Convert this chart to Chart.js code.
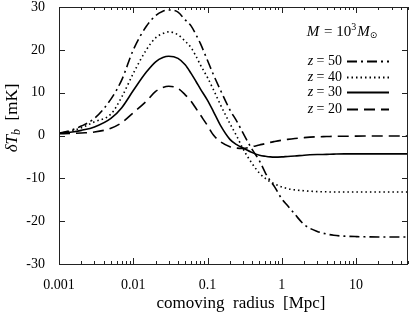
<!DOCTYPE html>
<html><head><meta charset="utf-8">
<script src="https://cdn.jsdelivr.net/npm/chart.js@4.4.0/dist/chart.umd.min.js"></script>
<style>html,body{margin:0;padding:0;background:#fff}#wrap{width:409px;height:314px}</style>
</head><body><div id="wrap"><canvas id="c" width="409" height="314"></canvas></div>
<script>
const radius = [0.001,0.0015,0.002,0.003,0.005,0.007,0.01,0.015,0.02,0.025,0.03,0.04,0.05,0.06,0.07,0.08,0.1,0.12,0.15,0.2,0.25,0.3,0.4,0.5,0.6,0.7,0.8,1,1.2,1.5,2,3,4,5,7,10,20,50];
const z50 = [0.5,1.3,2.2,4.0,8.5,13.0,20.0,25.5,28.0,29.0,29.3,28.8,27.0,25.6,23.5,21.5,17.5,14.2,10.5,6.0,3.2,0.6,-3.3,-5.9,-8.7,-10.6,-12.0,-14.8,-16.4,-18.4,-20.8,-22.4,-23.0,-23.3,-23.5,-23.6,-23.7,-23.7];
const z40 = [0.5,1.1,1.8,3.2,5.0,9.0,14.5,20.0,22.8,23.8,24.2,23.5,22.0,20.5,18.5,16.5,13.5,10.7,7.1,2.8,-0.3,-3.1,-6.6,-8.8,-10.0,-10.8,-11.3,-12.0,-12.4,-12.7,-12.9,-13.1,-13.15,-13.2,-13.2,-13.2,-13.2,-13.2];
const z30 = [0.5,0.8,1.2,2.0,4.0,6.5,10.5,14.8,17.2,18.2,18.5,18.0,16.5,14.5,12.6,10.9,8.2,5.6,2.3,-0.9,-2.2,-2.9,-4.0,-4.6,-4.85,-5.0,-5.05,-5.0,-4.9,-4.8,-4.6,-4.45,-4.4,-4.35,-4.3,-4.3,-4.3,-4.3];
const z20 = [0.4,0.5,0.6,0.8,1.7,3.0,5.3,8.0,10.3,11.2,11.5,11.0,9.5,8.0,6.3,4.8,2.3,0.1,-1.5,-2.6,-2.95,-3.0,-2.6,-2.2,-1.9,-1.6,-1.4,-1.1,-0.9,-0.7,-0.5,-0.3,-0.25,-0.2,-0.17,-0.15,-0.1,-0.1];
const xMajorTicks = [0.001,0.01,0.1,1,10];
const yTicks = [-30,-20,-10,0,10,20,30];
const seriesLabels = ['50','40','30','20'];

const dashes = {'50':[10,4,2,4],'40':[1.5,3],'30':[],'20':[11,6]};
function mk(arr,lab){return {label:'z = '+lab,data:radius.map((r,i)=>({x:r,y:arr[i]})),borderColor:'#000',borderWidth:1.6,borderDash:dashes[lab],pointRadius:0,fill:false,cubicInterpolationMode:'monotone'};}

const SERIF = '"Liberation Serif", "DejaVu Serif", serif';

function drawRich(ctx, parts, x, y, align){
  let w=0; parts.forEach(p=>{ctx.font=p[1]; w+=ctx.measureText(p[0]).width+(p[3]||0);});
  let cx = align==='center'? x-w/2 : (align==='right'? x-w : x);
  parts.forEach(p=>{ctx.font=p[1]; ctx.fillText(p[0],cx,y+(p[2]||0)); cx+=ctx.measureText(p[0]).width+(p[3]||0);});
}

const deco = {
  id:'deco',
  afterDraw(chart){
    const ctx=chart.ctx, a=chart.chartArea, xs=chart.scales.x, ys=chart.scales.y;
    ctx.save();
    ctx.strokeStyle='#222'; ctx.lineWidth=1; ctx.setLineDash([]);
    ctx.strokeRect(Math.round(a.left)+0.5, Math.round(a.top)+0.5, Math.round(a.right-a.left)-1, Math.round(a.bottom-a.top));
    ctx.beginPath();
    yTicks.forEach(v=>{const py=Math.round(ys.getPixelForValue(v))+0.5;
      ctx.moveTo(a.left,py);ctx.lineTo(a.left+6,py);ctx.moveTo(a.right,py);ctx.lineTo(a.right-6,py);});
    for(let d=-3; d<=1; d++){
      for(let k=1;k<=9;k++){
        const v=k*Math.pow(10,d); if(v>50) break;
        const px=Math.round(xs.getPixelForValue(v))+0.5; const L = k===1?6:3;
        ctx.moveTo(px,a.bottom);ctx.lineTo(px,a.bottom-L);ctx.moveTo(px,a.top);ctx.lineTo(px,a.top+L);
      }
    }
    ctx.stroke();
    ctx.fillStyle='#000'; ctx.textBaseline='middle';
    ctx.font='17px '+SERIF; ctx.textAlign='center';
    ctx.fillText('comoving  radius  [Mpc]', 241, 304);
    ctx.textAlign='left';
    ctx.save(); ctx.translate(13,118); ctx.rotate(-Math.PI/2);
    drawRich(ctx,[['δ','italic 17px '+SERIF,0],['T','italic 17px '+SERIF,0],['b','italic 12px '+SERIF,4],['  [mK]','17px '+SERIF,0]],0,0,'center');
    ctx.restore();
    drawRich(ctx,[['M','italic 15px '+SERIF,0,1],[' = 10','15px '+SERIF,0],['3','10px '+SERIF,-5,1],['M','italic 15px '+SERIF,0],['⊙','9px "DejaVu Sans"',4]],342,32,'center');
    const rowsY=[61,77,92,109];
    chart.data.datasets.forEach((ds,i)=>{
      const y=rowsY[i];
      drawRich(ctx,[['z','italic 14px '+SERIF,0],[' = '+seriesLabels[i],'14px '+SERIF,0]],342,y,'right');
      ctx.beginPath(); ctx.setLineDash(ds.borderDash); ctx.lineWidth=1.8; ctx.strokeStyle='#000';
      ctx.moveTo(347,y+0.5); ctx.lineTo(389,y+0.5); ctx.stroke();
    });
    ctx.restore();
  }
};

new Chart(document.getElementById('c'),{
  type:'line',
  data:{datasets:[mk(z50,'50'),mk(z40,'40'),mk(z30,'30'),mk(z20,'20')]},
  options:{
    responsive:false, animation:false, devicePixelRatio:1,
    layout:{padding:{top:7,right:1,left:0,bottom:0}},
    plugins:{legend:{display:false},tooltip:{enabled:false}},
    scales:{
      x:{type:'logarithmic',min:0.001,max:50,
        grid:{display:false,drawTicks:false},border:{display:false},
        afterBuildTicks:(s)=>{s.ticks=xMajorTicks.map(v=>({value:v,major:true}));},
        afterFit:(s)=>{s.height=50;s.paddingLeft=0;s.paddingRight=0;},
        ticks:{autoSkip:false,maxRotation:0,padding:13,color:'#000',font:{family:SERIF,size:14},
          callback:(v)=>xMajorTicks.includes(v)?String(v):''}},
      y:{min:-30,max:30,
        grid:{display:false,drawTicks:false},border:{display:false},
        afterBuildTicks:(s)=>{s.ticks=yTicks.map(v=>({value:v}));},
        afterFit:(s)=>{s.width=59;s.paddingTop=0;s.paddingBottom=0;},
        ticks:{padding:14,color:'#000',font:{family:SERIF,size:14},callback:(v)=>String(v)}}
    }
  },
  plugins:[deco]
});
</script></body></html>
